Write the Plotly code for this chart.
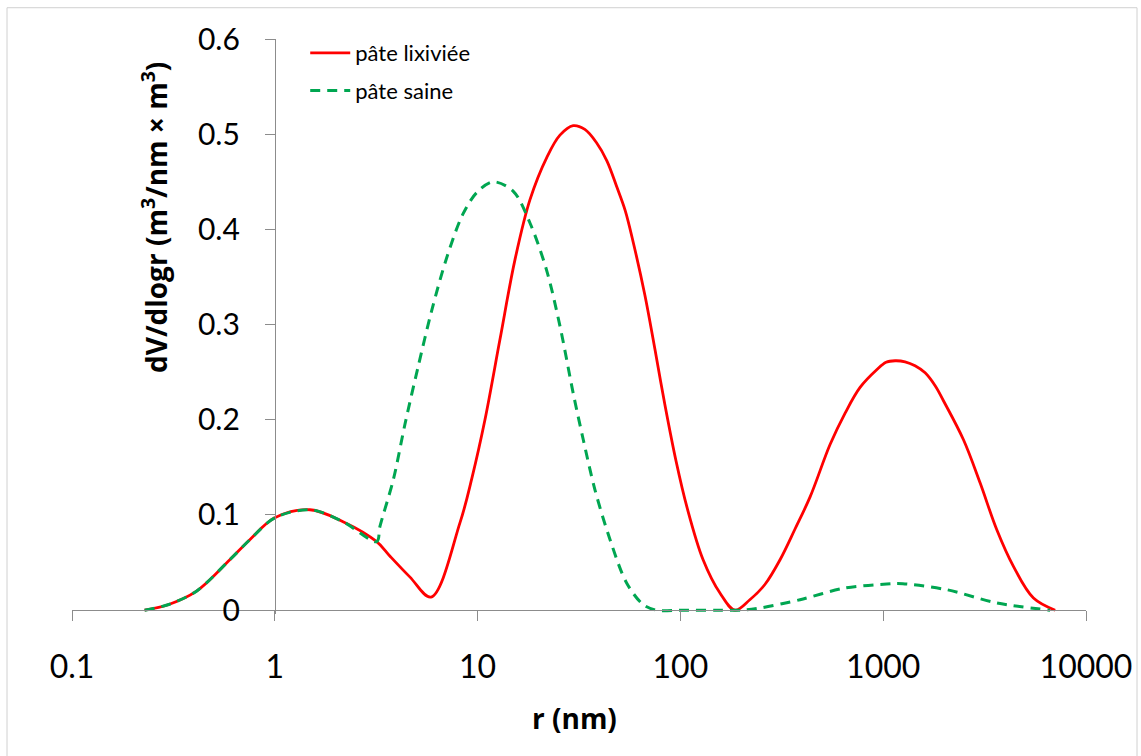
import plotly.graph_objects as go

# pore radius (nm) and dV/dlogr
r_lixiviee = [0.228, 0.30, 0.411, 0.60, 0.753, 1.0, 1.49, 2.17, 3.18, 3.69, 4.63, 5.89,
              8.19, 9.38, 10.87, 12.88, 15.28, 18.11, 21.98, 25.47, 29.6, 33.8, 38.6,
              43.4, 48.5, 53.4, 58.6, 66.8, 74.9, 84.0, 95.1, 107.8, 129.4, 156.7, 185.8,
              220, 261, 310, 367, 436, 547, 649, 769, 929, 1033, 1145, 1282, 1436, 1610,
              1804, 1982, 2488, 3007, 3632, 4387, 5508, 7047]
v_lixiviee = [0.0, 0.006, 0.020, 0.053, 0.074, 0.097, 0.1055, 0.093, 0.072, 0.057, 0.035, 0.0138,
              0.092, 0.139, 0.200, 0.284, 0.368, 0.431, 0.476, 0.499, 0.509, 0.505, 0.491,
              0.472, 0.445, 0.420, 0.386, 0.331, 0.274, 0.215, 0.157, 0.108, 0.053, 0.018, 0.0,
              0.011, 0.027, 0.053, 0.085, 0.119, 0.174, 0.207, 0.234, 0.2525, 0.2604, 0.262, 0.2609,
              0.2567, 0.2493, 0.2357, 0.220, 0.179, 0.1335, 0.0845, 0.046, 0.0128, 0.0]

r_saine = [0.228, 0.30, 0.411, 0.60, 0.753, 1.0, 1.49, 2.17, 3.18, 3.30, 3.84, 4.38,
           5.08, 5.96, 7.06, 8.46, 9.93, 11.94, 15.0, 18.1, 21.9, 25.5, 29.6, 33.2,
           37.9, 45.0, 54.3, 65.6, 76.4, 100, 150, 200, 247, 389, 637, 1042, 1250,
           2060, 3632, 6653]
v_saine = [0.0, 0.006, 0.020, 0.053, 0.074, 0.097, 0.1055, 0.093, 0.072, 0.088, 0.137, 0.195,
           0.255, 0.316, 0.371, 0.416, 0.439, 0.450, 0.440, 0.407, 0.357, 0.298, 0.228, 0.179,
           0.1265, 0.074, 0.0286, 0.0058, 0.0, 0.0, 0.0, 0.0, 0.0023, 0.011, 0.023, 0.0275, 0.0278,
           0.0215, 0.0076, 0.0]

x_tickvals = [0.1, 1, 10, 100, 1000, 10000]
x_ticktext = ["0.1", "1", "10", "100", "1000", "10000"]
y_tickvals = [0, 0.1, 0.2, 0.3, 0.4, 0.5, 0.6]
y_ticktext = ["0", "0.1", "0.2", "0.3", "0.4", "0.5", "0.6"]

FONT = "Lato, 'Open Sans', sans-serif"
TITLE_FONT = "'Open Sans', Lato, sans-serif"
AXIS_GREY = "#8c8c8c"
Y_MIN = -0.004  # a little room so the lines at zero are not clipped

fig = go.Figure()
fig.add_trace(go.Scatter(
    x=r_lixiviee, y=v_lixiviee, name="pâte lixiviée", mode="lines",
    line=dict(color="#ff0000", width=2.8, shape="spline", smoothing=1.0),
    legendgroup="a", hoverinfo="skip",
))
fig.add_trace(go.Scatter(
    x=r_saine, y=v_saine, name="pâte saine", mode="lines",
    line=dict(color="#00a651", width=3, dash="10px,7px", shape="spline", smoothing=0.9),
    legendgroup="b", hoverinfo="skip",
))

fig.update_layout(
    width=1141, height=756,
    margin=dict(l=72, r=55, t=39, b=142),
    paper_bgcolor="white", plot_bgcolor="white",
    font=dict(family=FONT, color="black"),
    showlegend=True,
    legend=dict(
        x=0.23, y=1.012, xanchor="left", yanchor="top",
        font=dict(size=22, family=FONT), tracegroupgap=6,
        bgcolor="rgba(0,0,0,0)", itemwidth=40,
    ),
    xaxis=dict(
        type="log", range=[-1, 4], anchor="free", position=-Y_MIN / (0.6 - Y_MIN),
        tickvals=x_tickvals, ticktext=x_ticktext,
        ticks="outside", ticklen=10, tickcolor=AXIS_GREY,
        showline=True, linecolor=AXIS_GREY, linewidth=1,
        showgrid=False, zeroline=False, automargin=False,
        tickfont=dict(size=32, family=FONT), ticklabelstandoff=18,
    ),
    yaxis=dict(
        range=[Y_MIN, 0.6], anchor="free", position=0.2,
        tickvals=y_tickvals, ticktext=y_ticktext,
        ticks="outside", ticklen=10, tickcolor=AXIS_GREY,
        showline=True, linecolor=AXIS_GREY, linewidth=1,
        showgrid=False, zeroline=False, automargin=False,
        tickfont=dict(size=30, family=FONT), ticklabelstandoff=19,
    ),
    annotations=[
        dict(text="<b>dV/dlogr (m<sup>3</sup>/nm × m<sup>3</sup>)</b>",
             xref="paper", yref="paper", x=0.082, y=0.689,
             xanchor="center", yanchor="middle", textangle=-90,
             showarrow=False, font=dict(size=28, family=TITLE_FONT)),
        dict(text="<b>r (nm)</b>", xref="paper", yref="paper", x=0.496, y=-0.180,
             xanchor="center", yanchor="middle", showarrow=False,
             font=dict(size=28, family=TITLE_FONT)),
    ],
    shapes=[
        dict(type="rect", xref="paper", yref="paper",
             x0=-0.0641, x1=1.0503, y0=-0.26, y1=1.0544,
             line=dict(color="#d0d0d0", width=1), layer="below"),
    ],
)

# the page's default body margin would push the chart 8px off the corner
fig.write_html(
    "out.html",
    config={"displayModeBar": False},
    post_script="document.body.style.margin='0';",
)
